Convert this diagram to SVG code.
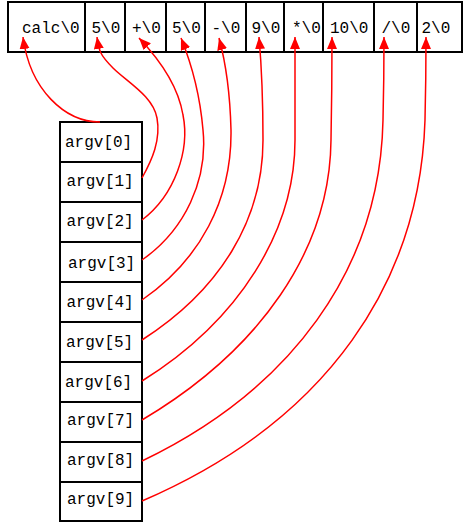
<svg xmlns="http://www.w3.org/2000/svg" width="473" height="522" viewBox="0 0 473 522">
<defs>
<style>
.cell{fill:#fff;stroke:#000;stroke-width:2}
.t{font-family:"Liberation Mono","DejaVu Sans Mono",monospace;font-size:16px;fill:#000}
.e{fill:none;stroke:#ff0000;stroke-width:1.5}
</style>
<marker id="ah" markerUnits="userSpaceOnUse" markerWidth="14" markerHeight="11" refX="12" refY="5" orient="auto">
<path d="M0,0 L12,5 L0,10 z" fill="#ff0000"/>
</marker>
</defs>
<rect width="473" height="522" fill="#fff"/>
<g id="strings">
<g id="s0"><rect class="cell" x="8" y="2" width="77" height="50"/><text class="t" x="22" y="33">calc\0</text></g>
<g id="s1"><rect class="cell" x="85" y="2" width="40" height="50"/><text class="t" x="91.5" y="33">5\0</text></g>
<g id="s2"><rect class="cell" x="125" y="2" width="41" height="50"/><text class="t" x="132" y="33">+\0</text></g>
<g id="s3"><rect class="cell" x="166" y="2" width="39" height="50"/><text class="t" x="172" y="33">5\0</text></g>
<g id="s4"><rect class="cell" x="205" y="2" width="41" height="50"/><text class="t" x="211.5" y="33">-\0</text></g>
<g id="s5"><rect class="cell" x="246" y="2" width="38" height="50"/><text class="t" x="251.5" y="33">9\0</text></g>
<g id="s6"><rect class="cell" x="284" y="2" width="39" height="50"/><text class="t" x="292" y="33">*\0</text></g>
<g id="s7"><rect class="cell" x="323" y="2" width="51" height="50"/><text class="t" x="330" y="33">10\0</text></g>
<g id="s8"><rect class="cell" x="374" y="2" width="43" height="50"/><text class="t" x="381.5" y="33">/\0</text></g>
<g id="s9"><rect class="cell" x="417" y="2" width="45" height="50"/><text class="t" x="421.5" y="33">2\0</text></g>
</g>
<g id="argv">
<g id="a0"><rect class="cell" x="60" y="122" width="82" height="40"/><text class="t" x="65" y="147">argv[0]</text></g>
<g id="a1"><rect class="cell" x="60" y="162" width="82" height="40"/><text class="t" x="66.5" y="186">argv[1]</text></g>
<g id="a2"><rect class="cell" x="60" y="202" width="82" height="40"/><text class="t" x="66.5" y="226">argv[2]</text></g>
<g id="a3"><rect class="cell" x="60" y="242" width="82" height="40"/><text class="t" x="68" y="268">argv[3]</text></g>
<g id="a4"><rect class="cell" x="60" y="282" width="82" height="40"/><text class="t" x="66.5" y="306.5">argv[4]</text></g>
<g id="a5"><rect class="cell" x="60" y="322" width="82" height="40"/><text class="t" x="66" y="346.5">argv[5]</text></g>
<g id="a6"><rect class="cell" x="60" y="362" width="82" height="40"/><text class="t" x="65" y="386.5">argv[6]</text></g>
<g id="a7"><rect class="cell" x="60" y="402" width="82" height="40"/><text class="t" x="67" y="425">argv[7]</text></g>
<g id="a8"><rect class="cell" x="60" y="442" width="82" height="40"/><text class="t" x="67" y="464.5">argv[8]</text></g>
<g id="a9"><rect class="cell" x="60" y="482" width="82" height="39"/><text class="t" x="67" y="504">argv[9]</text></g>
</g>
<g id="connectors">
<path class="e" marker-end="url(#ah)" d="M100,122 C65,122 30,90 23,37"/>
<path class="e" marker-end="url(#ah)" d="M142,178 C152,160 161,140 157,118 S127,82 113,68 S99,50 97,37"/>
<path class="e" marker-end="url(#ah)" d="M142,220 C175,195 190,150 183,115 C178,85 160,60 139,38"/>
<path class="e" marker-end="url(#ah)" d="M142,260 C185,230 208,180 203,130 C200,95 192,65 181,38"/>
<path class="e" marker-end="url(#ah)" d="M142,300 C200,260 232,200 231,130 C230,90 225,60 219,38"/>
<path class="e" marker-end="url(#ah)" d="M142,340 C220,290 263,220 263,140 C263,90 261,60 259,37"/>
<path class="e" marker-end="url(#ah)" d="M142,381 C240,320 295,230 295,140 C295,90 295,60 295,37"/>
<path class="e" marker-end="url(#ah)" d="M142,420 C260,350 330,250 331,140 C332,90 332,60 332,37"/>
<path class="e" marker-end="url(#ah)" d="M142,461 C290,390 380,270 383,120 C384,80 384,60 384,37"/>
<path class="e" marker-end="url(#ah)" d="M142,501 C330,420 420,280 425,120 C426,80 426,60 426,37"/>
</g>
</svg>
